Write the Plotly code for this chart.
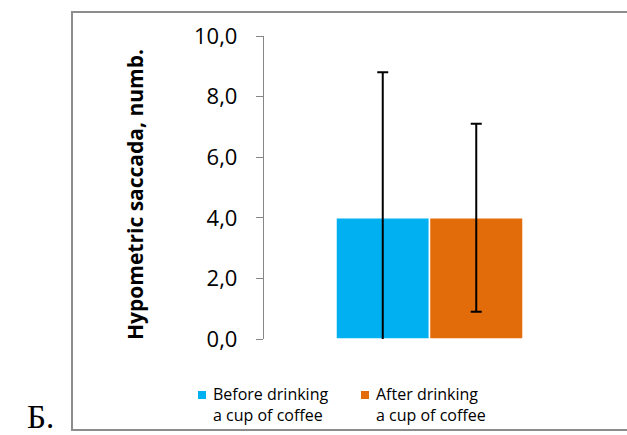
import plotly.graph_objects as go

# Data
categories = ["Hypometric saccada"]
series_names = ["Before drinking<br>a cup of coffee", "After drinking<br>a cup of coffee"]
means = [4.0, 4.0]
errors = [4.8, 3.1]
colors = ["#00B0F0", "#E36C0A"]

y_ticks = [0, 2, 4, 6, 8, 10]

W, H = 627, 435
L, R, T, B = 264, 32, 36, 96
pw, ph = W - L - R, H - T - B


def px(x):
    return (x - L) / pw


def py(y):
    return (H - B - y) / ph


fig = go.Figure()
for name, m, e, c in zip(series_names, means, errors, colors):
    fig.add_trace(go.Bar(
        x=categories, y=[m], name=name, showlegend=False,
        marker=dict(color=c, line=dict(color="white", width=1.5)),
        error_y=dict(type="data", array=[e], symmetric=True,
                     color="black", thickness=2, width=5.5),
    ))

# Legend drawn as small squares with two-line labels beneath the plot
legend_x = [198, 361]
shapes = [dict(type="rect", xref="paper", yref="paper",
               x0=px(72), x1=px(660), y0=py(430), y1=py(12),
               line=dict(color="#8C8C8C", width=2), fillcolor="rgba(0,0,0,0)",
               layer="below")]
annotations = [
    dict(text="<b>Hypometric saccada, numb.</b>", textangle=-90,
         xref="paper", yref="paper", x=px(135), y=py(195),
         xanchor="center", yanchor="middle", showarrow=False,
         font=dict(size=21, family="Open Sans", color="black")),
    dict(text="Б.", xref="paper", yref="paper", x=px(25), y=py(417),
         xanchor="left", yanchor="middle", showarrow=False,
         font=dict(size=33, family="Liberation Serif", color="black")),
]
for lx, name, c in zip(legend_x, series_names, colors):
    shapes.append(dict(type="rect", xref="paper", yref="paper",
                       x0=px(lx), x1=px(lx + 8), y0=py(399), y1=py(391),
                       line=dict(width=0), fillcolor=c))
    annotations.append(dict(text=name, xref="paper", yref="paper",
                            x=px(lx + 13), y=py(404),
                            xanchor="left", yanchor="middle",
                            align="left", showarrow=False,
                            font=dict(size=16, family="Open Sans", color="black")))

fig.update_layout(
    width=W, height=H,
    margin=dict(l=L, r=R, t=T, b=B, pad=0, autoexpand=False),
    paper_bgcolor="white", plot_bgcolor="white",
    separators=", ",
    barmode="group", bargap=0.435, bargroupgap=0,
    font=dict(family="Open Sans", color="black"),
    showlegend=False,
    xaxis=dict(showticklabels=False, showline=False, ticks="", showgrid=False,
               zeroline=False),
    yaxis=dict(range=[0, 10], tickvals=y_ticks, tickformat=".1f",
               showline=True, linecolor="#868686", linewidth=1.3,
               ticks="outside", ticklen=7, tickcolor="#868686", tickwidth=1.3,
               ticklabelstandoff=14,
               tickfont=dict(size=22, family="Open Sans", color="black"),
               showgrid=False, zeroline=False),
    shapes=shapes,
    annotations=annotations,
)

fig.write_html("out.html")
